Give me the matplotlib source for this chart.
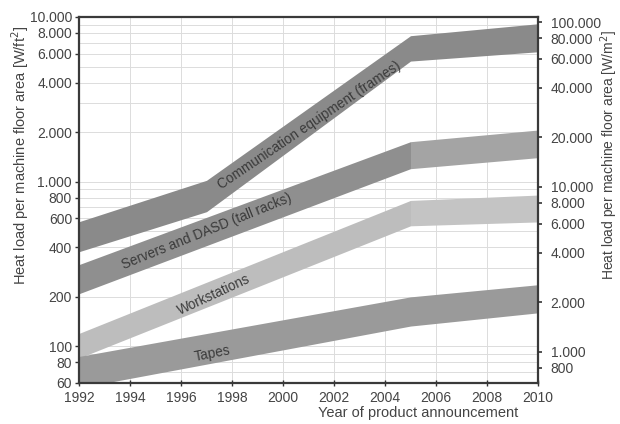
import matplotlib
matplotlib.use('Agg')
import matplotlib.pyplot as plt
from matplotlib.ticker import FixedLocator, NullLocator

plt.rcParams['font.family'] = ['Liberation Sans', 'DejaVu Sans']

# %% Data (W/ft^2)
comm_years = [1992, 1997, 2005, 2010]
comm_low = [376, 658, 5400, 6150]
comm_high = [572, 1020, 7700, 9100]

serv_years = [1992, 2005, 2010]
serv_low = [209, 1200, 1400]
serv_high = [314, 1750, 2060]

work_years = [1992, 2005, 2010]
work_low = [85, 540, 570]
work_high = [120, 770, 830]

tape_years = [1992, 2005, 2010]
tape_low = [56, 133, 160]
tape_high = [87, 200, 237]

left_ticks = [60, 80, 100, 200, 400, 600, 800, 1000, 2000, 4000, 6000, 8000, 10000]
right_ticks = [800, 1000, 2000, 4000, 6000, 8000, 10000, 20000, 40000, 60000, 80000, 100000]
x_ticks = list(range(1992, 2011, 2))

ft2_to_m2 = 10.764


def fmt(v):
    return '{:,}'.format(v).replace(',', '.')


# %% Figure
fig = plt.figure(figsize=(6.2, 4.24), dpi=100)
ax = fig.add_axes([79/620, 41/424, 459/620, 366/424])

ax.set_yscale('log')
ax.set_xlim(1992, 2010)
ax.set_ylim(60, 10000)

# grid
minor = [m * 10**e for e in range(1, 5) for m in range(1, 10)]
minor = [v for v in minor if 60 <= v <= 10000]
for v in minor:
    ax.axhline(v, color='#dcdcdc', lw=0.7, zorder=0)
for x in x_ticks:
    ax.axvline(x, color='#dcdcdc', lw=0.7, zorder=0)

# bands
ax.fill_between(comm_years, comm_low, comm_high, color='#8a8a8a', lw=0, zorder=2)
ax.fill_between(serv_years[:2], serv_low[:2], serv_high[:2], color='#8f8f8f', lw=0, zorder=2)
ax.fill_between(serv_years[1:], serv_low[1:], serv_high[1:], color='#a4a4a4', lw=0, zorder=2)
ax.fill_between(work_years[:2], work_low[:2], work_high[:2], color='#bdbdbd', lw=0, zorder=2)
ax.fill_between(work_years[1:], work_low[1:], work_high[1:], color='#c4c4c4', lw=0, zorder=2)
ax.fill_between(tape_years, tape_low, tape_high, color='#9a9a9a', lw=0, zorder=2)

# band labels
lab = dict(fontsize=9.8, color='#3a3a3a', ha='center', va='center', zorder=3,
           rotation_mode='anchor')
ax.text(2001.05, 2200, 'Communication equipment (frames)', rotation=34, **lab)
ax.text(1997.0, 500, 'Servers and DASD (tall racks)', rotation=22, **lab)
ax.text(1997.3, 205, 'Workstations', rotation=25, **lab)
ax.text(1997.25, 91, 'Tapes', rotation=11, **lab)

# left axis ticks
ax.yaxis.set_major_locator(FixedLocator(left_ticks))
ax.set_yticklabels([fmt(v) for v in left_ticks])
ax.yaxis.set_minor_locator(NullLocator())
ax.set_xticks(x_ticks)
ax.set_xticklabels([str(x) for x in x_ticks])
ax.tick_params(axis='y', direction='out', length=3, width=1, color='#333333',
               labelsize=10, labelcolor='#444444', pad=2)
ax.tick_params(axis='x', direction='inout', length=5, width=1, color='#333333',
               labelsize=10, labelcolor='#444444', pad=3)
for s in ax.spines.values():
    s.set_color('#3a3a3a')
    s.set_linewidth(1.6)

# right axis in W/m^2
ax2 = ax.twinx()
ax2.set_yscale('log')
ax2.set_ylim(60 * ft2_to_m2, 10000 * ft2_to_m2)
ax2.yaxis.set_major_locator(FixedLocator(right_ticks))
ax2.set_yticklabels([fmt(v) for v in right_ticks])
ax2.yaxis.set_minor_locator(NullLocator())
ax2.tick_params(axis='y', direction='out', length=3, width=1.2, color='#333333',
                labelsize=10, labelcolor='#444444', pad=6)
for s in ax2.spines.values():
    s.set_visible(False)

fig.text(20/620, 1 - 155/424, 'Heat load per machine floor area [W/ft$^2$]',
         rotation=90, ha='center', va='center', fontsize=10.5, color='#444444')
fig.text(609/620, 1 - 155/424, 'Heat load per machine floor area [W/m$^2$]',
         rotation=90, ha='center', va='center', fontsize=10, color='#444444')
fig.text(418/620, 1 - 413/424, 'Year of product announcement',
         ha='center', va='center', fontsize=10.5, color='#444444')

fig.savefig('out.png', dpi=100)
